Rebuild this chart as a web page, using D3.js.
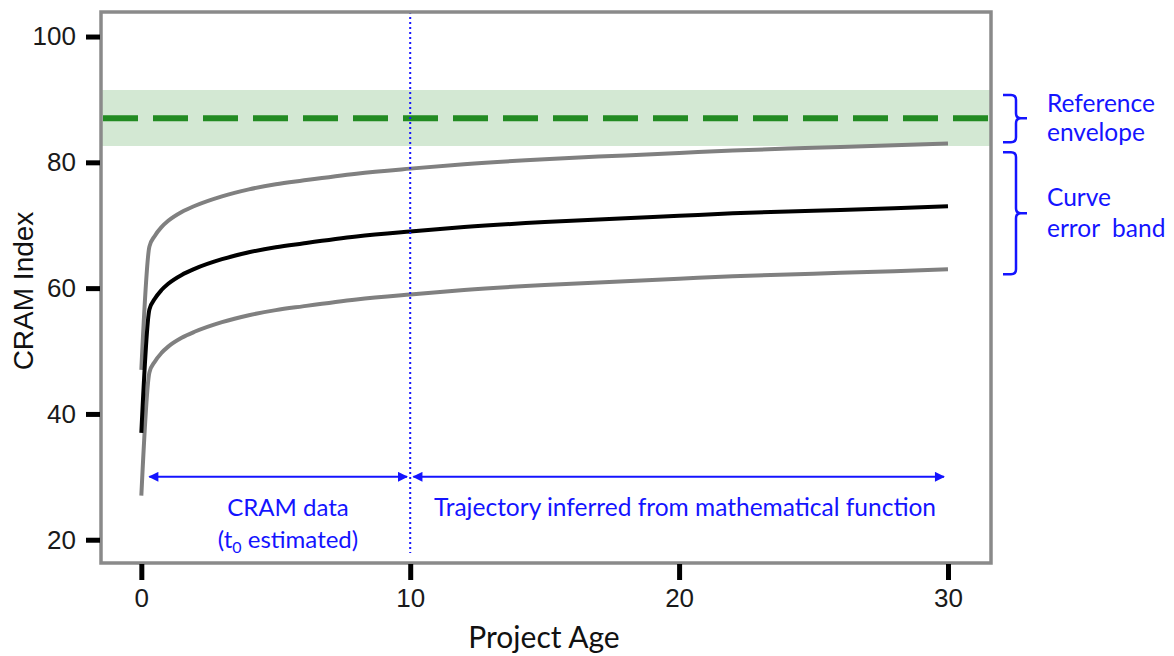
<!DOCTYPE html>
<html>
<head>
<meta charset="utf-8">
<script src="https://cdn.jsdelivr.net/npm/d3@7"></script>
<style>
  html, body { margin: 0; padding: 0; background: #fff; }
  svg { display: block; }
</style>
</head>
<body>
<svg id="chart" width="1174" height="656"></svg>
<script>
// Project age (years) at which the trajectories are sampled
const ages = [0, 0.3, 0.5, 0.75, 1, 1.5, 2, 3, 4, 5, 6, 8, 10, 12, 15, 18, 20, 22, 25, 28, 30];
// Central CRAM trajectory
const centralCurve = [37, 56.6, 58.3, 59.7, 60.7, 62.1, 63.1, 64.6, 65.7, 66.5, 67.1, 68.2, 69.0, 69.7, 70.5, 71.1, 71.5, 71.9, 72.3, 72.7, 73.0];
// Upper and lower edges of the curve error band
const upperCurve = [47, 66.6, 68.3, 69.7, 70.7, 72.1, 73.1, 74.6, 75.7, 76.5, 77.1, 78.2, 79.0, 79.7, 80.5, 81.1, 81.5, 81.9, 82.3, 82.7, 83.0];
const lowerCurve = [27, 46.6, 48.3, 49.7, 50.7, 52.1, 53.1, 54.6, 55.7, 56.5, 57.1, 58.2, 59.0, 59.7, 60.5, 61.1, 61.5, 61.9, 62.3, 62.7, 63.0];
// Reference envelope: central value and its range
const referenceValue = [87];
const referenceRange = [82.6, 91.5];
// Boundary between observed data and the inferred trajectory
const dataCutoff = [10];
const xTicks = [0, 10, 20, 30];
const yTicks = [20, 40, 60, 80, 100];

const svg = d3.select("#chart");
const W = 1174, H = 656;
const plot = { left: 101, right: 991, top: 12, bottom: 563 };

const x = d3.scaleLinear().domain([-1.5, 31.6]).range([plot.left, plot.right]);
const y = d3.scaleLinear().domain([16.3, 103.9]).range([plot.bottom, plot.top]);

const BLUE = "#1414ff";
const GREEN = "#228b22";
const calibriLike = "Lato, 'Open Sans', sans-serif";
const arialLike = "'Liberation Sans', Arial, sans-serif";

svg.append("rect").attr("width", W).attr("height", H).attr("fill", "#fff");

// Reference envelope shading and dashed reference line
svg.append("rect")
  .attr("x", plot.left).attr("width", plot.right - plot.left)
  .attr("y", y(referenceRange[1])).attr("height", y(referenceRange[0]) - y(referenceRange[1]))
  .attr("fill", GREEN).attr("fill-opacity", 0.2);

svg.append("line")
  .attr("x1", plot.left + 2).attr("x2", plot.right)
  .attr("y1", y(referenceValue[0])).attr("y2", y(referenceValue[0]))
  .attr("stroke", GREEN).attr("stroke-width", 6)
  .attr("stroke-dasharray", "35,15");

// Trajectories
const line = d3.line()
  .x(d => x(d[0])).y(d => y(d[1]))
  .curve(d3.curveMonotoneX);

const series = [
  { values: upperCurve, color: "#808080" },
  { values: lowerCurve, color: "#808080" },
  { values: centralCurve, color: "#000000" }
];
series.forEach(s => {
  svg.append("path")
    .datum(ages.map((a, i) => [a, s.values[i]]))
    .attr("d", line)
    .attr("fill", "none")
    .attr("stroke", s.color)
    .attr("stroke-width", 4);
});

// Dotted cutoff line
svg.append("line")
  .attr("x1", x(dataCutoff[0])).attr("x2", x(dataCutoff[0]))
  .attr("y1", plot.top).attr("y2", plot.bottom - 10)
  .attr("stroke", BLUE).attr("stroke-width", 2)
  .attr("stroke-dasharray", "2,3");

// Double-headed arrows marking the two periods
const defs = svg.append("defs");
defs.append("marker")
  .attr("id", "arrowHead")
  .attr("viewBox", "0 0 10 10")
  .attr("refX", 9).attr("refY", 5)
  .attr("markerWidth", 6).attr("markerHeight", 5)
  .attr("markerUnits", "strokeWidth")
  .attr("orient", "auto-start-reverse")
  .append("path").attr("d", "M0,0 L10,5 L0,10 Z").attr("fill", BLUE);

const arrowLevel = 30;
const periods = [
  { from: 0.3, to: 9.88 },
  { from: 10.12, to: 29.85 }
];
periods.forEach(p => {
  svg.append("line")
    .attr("x1", x(p.from)).attr("x2", x(p.to))
    .attr("y1", y(arrowLevel)).attr("y2", y(arrowLevel))
    .attr("stroke", BLUE).attr("stroke-width", 2)
    .attr("marker-start", "url(#arrowHead)")
    .attr("marker-end", "url(#arrowHead)");
});

svg.append("text")
  .attr("x", 288).attr("y", 516)
  .attr("text-anchor", "middle")
  .attr("font-family", calibriLike).attr("font-size", 24)
  .attr("fill", BLUE)
  .text("CRAM data");

const t0Label = svg.append("text")
  .attr("x", 288).attr("y", 548)
  .attr("text-anchor", "middle")
  .attr("font-family", calibriLike).attr("font-size", 24)
  .attr("fill", BLUE);
t0Label.append("tspan").text("(t");
t0Label.append("tspan").attr("font-size", 16).attr("dy", 5).text("0");
t0Label.append("tspan").attr("dy", -5).text(" estimated)");

svg.append("text")
  .attr("x", 685).attr("y", 516)
  .attr("text-anchor", "middle")
  .attr("font-family", calibriLike).attr("font-size", 24.5)
  .attr("fill", BLUE)
  .text("Trajectory inferred from mathematical function");

// Plot frame
svg.append("rect")
  .attr("x", plot.left).attr("y", plot.top)
  .attr("width", plot.right - plot.left).attr("height", plot.bottom - plot.top)
  .attr("fill", "none").attr("stroke", "#8a8a8a").attr("stroke-width", 3.5);

// Axes
const yAxis = svg.append("g")
  .attr("transform", `translate(${plot.left - 1},0)`)
  .call(d3.axisLeft(y).tickValues(yTicks).tickSize(14).tickPadding(10));
const xAxis = svg.append("g")
  .attr("transform", `translate(0,${plot.bottom + 1})`)
  .call(d3.axisBottom(x).tickValues(xTicks).tickSize(16).tickPadding(9));

[yAxis, xAxis].forEach(g => {
  g.select(".domain").remove();
  g.selectAll(".tick line").attr("stroke", "#000").attr("stroke-width", 5);
  g.selectAll(".tick text")
    .attr("font-family", arialLike)
    .attr("font-size", 26)
    .attr("fill", "#1a1a1a");
});

// Axis titles
svg.append("text")
  .attr("x", 544).attr("y", 648)
  .attr("text-anchor", "middle")
  .attr("font-family", calibriLike).attr("font-size", 30)
  .attr("fill", "#111")
  .text("Project Age");

svg.append("text")
  .attr("transform", "translate(33,291) rotate(-90)")
  .attr("text-anchor", "middle")
  .attr("font-family", arialLike).attr("font-size", 28)
  .attr("fill", "#111")
  .text("CRAM Index");

// Braces on the right-hand side with their labels
function brace(top, bottom, tipY) {
  const xo = 1003, xv = 1016, xt = 1027, r = 5;
  return `M${xo},${top} L${xv - r},${top} Q${xv},${top} ${xv},${top + r}` +
    ` L${xv},${tipY - r} Q${xv},${tipY} ${xv + r},${tipY} L${xt},${tipY}` +
    ` M${xv + r},${tipY} Q${xv},${tipY} ${xv},${tipY + r}` +
    ` L${xv},${bottom - r} Q${xv},${bottom} ${xv - r},${bottom} L${xo},${bottom}`;
}
const envelopeBrace = [83.2, 90.7];
const bandBrace = [62.2, 81.6];
svg.append("path")
  .attr("d", brace(y(envelopeBrace[1]), y(envelopeBrace[0]), y(referenceValue[0])))
  .attr("fill", "none").attr("stroke", BLUE).attr("stroke-width", 2.5);
svg.append("path")
  .attr("d", brace(y(bandBrace[1]), y(bandBrace[0]), y((bandBrace[0] + bandBrace[1]) / 2)))
  .attr("fill", "none").attr("stroke", BLUE).attr("stroke-width", 2.5);

const sideLabels = [
  { text: "Reference", y: 112 },
  { text: "envelope", y: 141 },
  { text: "Curve", y: 206 },
  { text: "error\u00a0 band", y: 237 }
];
sideLabels.forEach(l => {
  svg.append("text")
    .attr("x", 1047).attr("y", l.y)
    .attr("font-family", calibriLike).attr("font-size", 24.5)
    .attr("fill", BLUE)
    .text(l.text);
});
</script>
</body>
</html>
